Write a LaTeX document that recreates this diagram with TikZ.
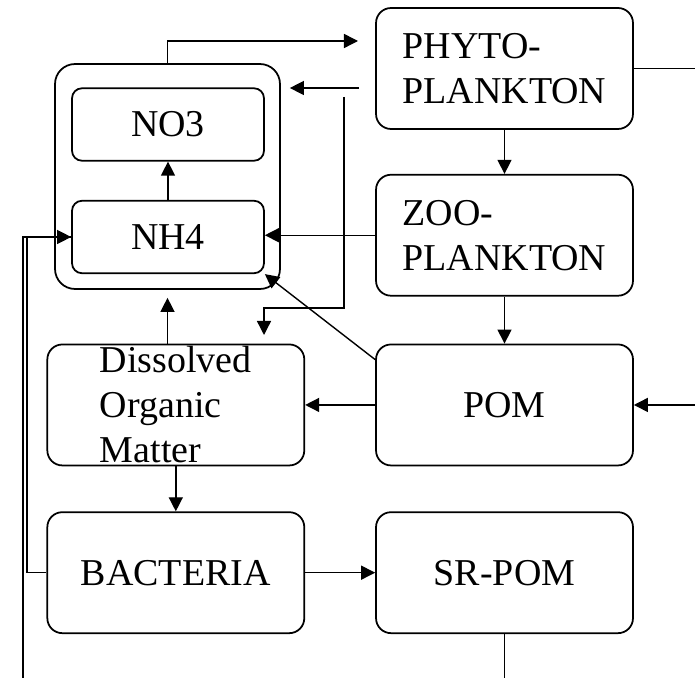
\documentclass[tikz,border=0pt]{standalone}
\usepackage{fontspec}
\setmainfont{Liberation Serif}
\usetikzlibrary{arrows.meta}
\usetikzlibrary{positioning}
\tikzset{
    pool/.style={draw, line width=1pt, rounded corners=0.3cm, align=left,
        minimum width=5.14cm, minimum height=2.42cm, inner sep=1pt,
        font=\fontsize{21.6pt}{25.6pt}\selectfont},
    nutrient/.style={pool, rounded corners=0.2cm, minimum width=3.84cm, minimum height=1.45cm},
    flow/.style={line width=0.8pt},
}
\begin{document}
\begin{tikzpicture}[x=0.02cm, y=-0.02cm, >={Triangle[length=8pt,width=8pt]}]
    \useasboundingbox (0,0) rectangle (695,678);

    % Nutrients
    \node[pool, rounded corners=0.4cm, minimum width=4.5cm, minimum height=4.5cm] (nut) at (167.5,176.5) {};
    \node[nutrient] (no3) at (168,124.5) {NO3};
    \node[nutrient] (nh4) at (168,237) {NH4};

    % Plankton column
    \node[pool] (phyto) at (504.5,68.5) {PHYTO-\\PLANKTON};
    \node[pool, below=0.88cm of phyto] (zoo) {ZOO-\\PLANKTON};
    \node[pool, below=0.94cm of zoo] (pom) {POM};
    \node[pool, below=0.9cm of pom] (srpom) {SR-POM};

    % Left column
    \node[pool, left=1.4cm of pom] (dom) {Dissolved\\Organic\\Matter};
    \node[pool, left=1.4cm of srpom] (bact) {BACTERIA};

    % Free ends
    \coordinate (upturn) at (358,41);
    \coordinate (phytoback) at (359,88);
    \coordinate (phytodrop) at (344,97);
    \coordinate (dombend) at (344,308);
    \coordinate (domin) at (264,335);
    \coordinate (edge) at (695,678);
    \coordinate (bactleft) at (27,573);
    \coordinate (bottomleft) at (23,678);

    % Uptake and release
    \draw[flow,->] (nut.north) |- (upturn);
    \draw[flow,->,shorten >=0.18cm] (phytoback) -- (nut.east |- phytoback);
    \draw[flow,->] (phytodrop) -- (dombend) -| (domin);
    \draw[flow,->] (nh4.north) -- (no3.south);
    \draw[flow,->] (zoo.west) -- (zoo.west -| nh4.east);
    \draw[flow,->] ([yshift=-0.32cm]pom.north west) -- (nh4.south east);
    \draw[flow,->,shorten >=0.16cm] (nut.south |- dom.north) -- (nut.south);

    % Food chain
    \draw[flow,->] (phyto.south) -- (zoo.north);
    \draw[flow,->] (zoo.south) -- (pom.north);
    \draw[flow,->] (pom.west) -- (dom.east);
    \draw[flow,->] (dom.south) -- (bact.north);
    \draw[flow,->] (bact.east) -- (srpom.west);

    % Outside the frame
    \draw[flow] (phyto.east) -- (phyto.east -| edge);
    \draw[flow,<-] (pom.east) -- (pom.east -| edge);
    \draw[flow] (srpom.south) -- (srpom.south |- edge);
    \draw[flow,->] (bact.west) -- (bact.west -| bactleft) |- (nh4.west);
    \draw[flow] (bottomleft) |- (nh4.west);

\end{tikzpicture}
\end{document}
